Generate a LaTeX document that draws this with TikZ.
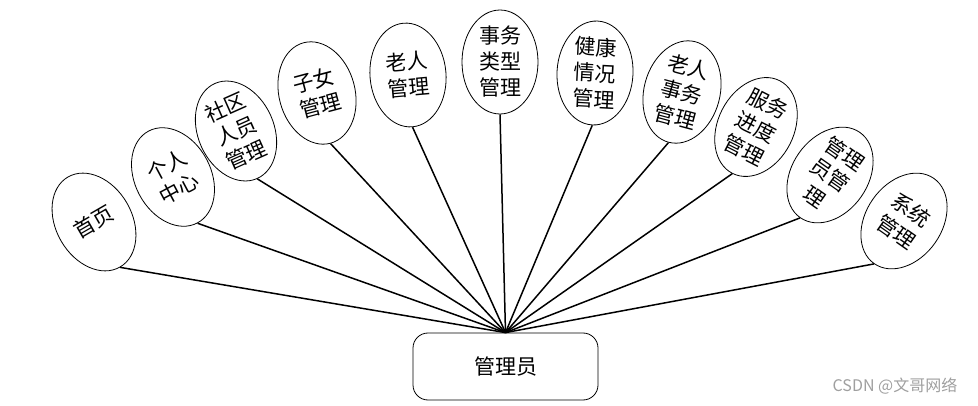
\documentclass[tikz,border=0pt]{standalone}
\usepackage{fontspec}
\newfontfamily\cjk{Noto Sans CJK SC}
\usetikzlibrary{shapes.geometric}
\begin{document}
\begin{tikzpicture}[x=1pt, y=-1pt,
        func/.style={draw, ellipse, thick, inner sep=0pt, minimum width=76pt,
                     minimum height=104pt, align=center, font=\cjk\fontsize{21}{26}\selectfont},
        role/.style={draw, thick, rounded corners=15pt, minimum width=185pt,
                     minimum height=67pt, font=\cjk\fontsize{21}{26}\selectfont},
        link/.style={line width=1.5pt}
    ]
    \useasboundingbox (0,0) rectangle (978,406);
    % 管理员
    \node[role] (admin) at (505.5,366.5) {管理员};
    % 功能模块 (名, x, y, 旋转, 文字)
    \foreach \name/\x/\y/\rot/\txt in {
        m1/94/222/30/{首页},
        m2/173/177/28/{个人\\中心},
        m3/236/131/24/{社区\\人员\\管理},
        m4/317/93/15/{子女\\管理},
        m5/408/75/5/{老人\\管理},
        m6/500/62/0/{事务\\类型\\管理},
        m7/595/73/-3/{健康\\情况\\管理},
        m8/682/92/-15/{老人\\事务\\管理},
        m9/756/127/-27/{服务\\进度\\管理},
        m10/830/175/-35/{管理\\员管\\理},
        m11/904/221/-35/{系统\\管理}}
    {
        \node[func, rotate=\rot] (\name) at (\x,\y) {\txt};
        \draw[link] (admin.north) -- (\name.south);
    }
    \node[font=\cjk\fontsize{16}{18}\selectfont, text=gray!75] (mark) at (895,386) {CSDN @文哥网络};
\end{tikzpicture}
\end{document}
